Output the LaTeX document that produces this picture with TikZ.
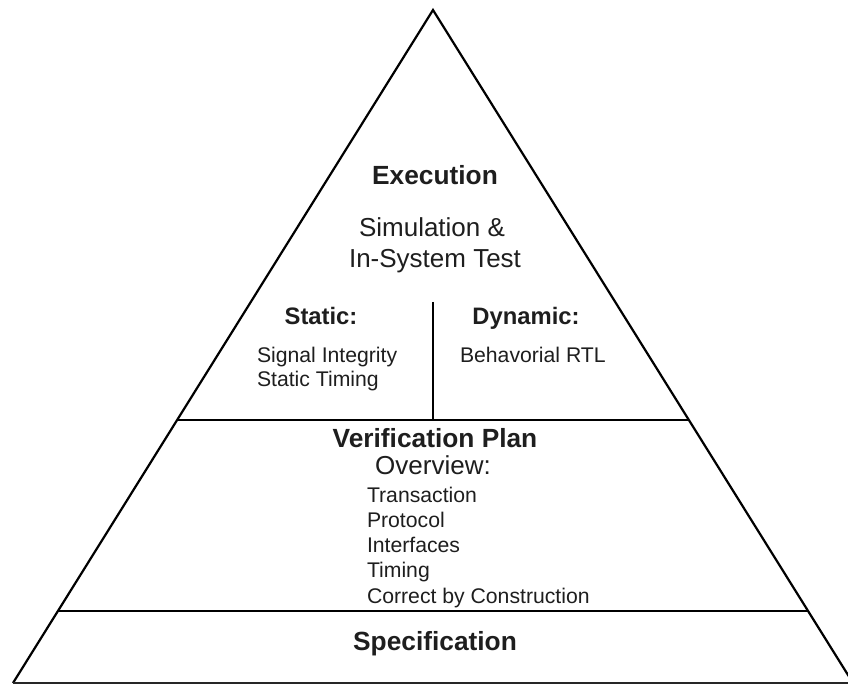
\documentclass[tikz,border=0pt]{standalone}
\usepackage{fontspec}
\setmainfont{Liberation Sans}
\usetikzlibrary{calc}
\definecolor{ink}{HTML}{1E1E1E}
\tikzset{
  side/.style={line width=2.2pt, draw=black, line join=miter},
  divider/.style={line width=1.6pt, draw=black},
  txt/.style={inner sep=0pt, outer sep=0pt, text=ink},
  big/.style={txt, font=\fontsize{26}{31}\selectfont},
  bigb/.style={txt, font=\fontsize{26.3}{31}\selectfont\bfseries},
  midb/.style={txt, font=\fontsize{23.8}{28}\selectfont\bfseries},
  small/.style={txt, font=\fontsize{21.2}{25}\selectfont},
}
\begin{document}
\begin{tikzpicture}[x=1pt,y=-1pt]
\useasboundingbox (0,0) rectangle (848,684);
\coordinate (A) at (433,10);
\coordinate (BL) at (13,683);
\coordinate (BR) at (853,683);
\coordinate (L1) at ($(A)!0.6092!(BL)$);
\coordinate (R1) at ($(A)!0.6092!(BR)$);
\coordinate (L2) at ($(A)!0.893!(BL)$);
\coordinate (R2) at ($(A)!0.893!(BR)$);
\coordinate (VT) at (433,302);
\coordinate (VB) at (433,420);
% triangle
\draw[side] (BL) -- (A) -- (BR);
\draw[line width=2pt, draw=black!85] (BL) -- (BR);
\draw[divider] (L1) -- (R1);
\draw[divider] (L2) -- (R2);
\draw[divider] (VT) -- (VB);
% texts
\node[bigb, anchor=base] (exec) at (435,185) {Execution};
\node[big, anchor=base] (sim1) at (432,237) {Simulation \&};
\node[big, anchor=base] (sim2) at (435,268) {In-System Test};
\node[midb, anchor=base] (static) at (321,325) {Static:};
\node[midb, anchor=base] (dyn) at (526,325) {Dynamic:};
\node[small, anchor=base west] (sig) at (257,362) {Signal Integrity};
\node[small, anchor=base west] (stt) at (257,386) {Static Timing};
\node[small, anchor=base west] (beh) at (460,362) {Behavorial RTL};
\node[bigb, anchor=base] (vp) at (435,447) {Verification Plan};
\node[big, anchor=base] (ov) at (433,474) {Overview:};
\node[small, anchor=base west] (l1) at (367,502) {Transaction};
\node[small, anchor=base west] (l2) at (367,527) {Protocol};
\node[small, anchor=base west] (l3) at (367,552) {Interfaces};
\node[small, anchor=base west] (l4) at (367,577) {Timing};
\node[small, anchor=base west] (l5) at (367,603) {Correct by Construction};
\node[bigb, anchor=base] (spec) at (435,650) {Specification};
\end{tikzpicture}
\end{document}
